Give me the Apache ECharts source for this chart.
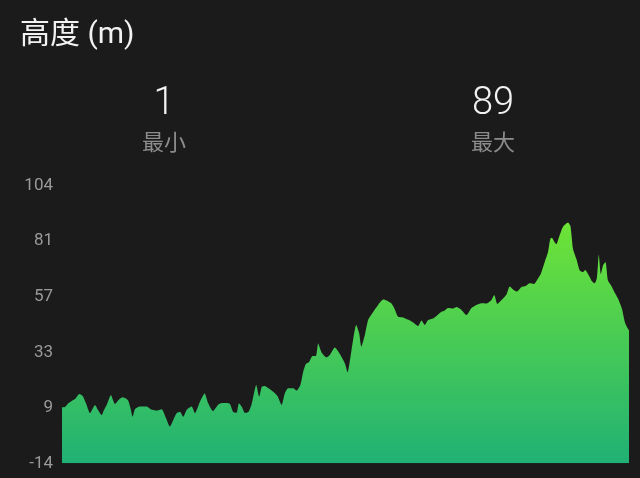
<!DOCTYPE html>
<html>
<head>
<meta charset="utf-8">
<script src="https://cdn.jsdelivr.net/npm/echarts@6/dist/echarts.min.js"></script>
<style>
html,body{margin:0;padding:0;background:#1b1b1b;}
#chart{width:640px;height:478px;}
</style>
</head>
<body>
<div id="chart"></div>
<script>
// distance along the route (arbitrary units) and altitude (m)
const distance = [0,3,6.3,9.7,13,17.3,20.7,24,28,30.5,33,36,39.7,42,44.7,47,49,51,53,57.3,60.7,64,66.3,68.5,70.7,73,78,84.7,88.7,94.7,99.7,103.7,108,111.3,114.7,118,121.3,124.7,129.7,133,138,142.7,146.3,151,156,159.7,164.7,168,171.3,174.7,177,180,183,186.5,189.5,191.3,194.3,197.3,200,203,206.3,211.3,215.5,219.7,223,226.3,231.3,234.7,238.5,241.3,244,247.3,250.7,254,256.3,259.7,264.7,268,273,278,283,285.7,289.7,294.4,297.3,299.5,303,306.3,311.3,316.3,321.3,324.7,329.7,333,336.3,341.3,346,351.3,356.3,359.7,363,366.3,371.3,374.7,379.7,383,386.3,391.3,394.7,399.7,404.7,409.7,414.7,419.7,424.7,429.7,432.5,435.5,439.7,444.7,448,452,455.3,459.7,464,468,472,476.3,479,483,486.3,488.5,490,493,494.7,497,501.3,506.3,508.7,511.3,514.7,518,521.3,523.5,526.3,528,530,532.8,535.2,537.1,539.2,541.5,543.8,546.3,549.7,553.5,556.3,558.5,560.3,563.5,567.3];
const altitude = [9.8,9.9,11.5,12.5,13.3,15.5,14.6,11.5,7.3,9.1,10.8,8.7,6.5,8.7,10.8,13.3,15.0,12.9,11.2,13.2,14.1,13.5,12.6,9.5,5.8,9.0,10.1,10.1,9.0,8.4,9.0,5.6,1.6,4.4,7.3,7.9,5.8,8.7,10.1,7.3,12.2,15.7,11.5,8.2,10.8,11.6,11.6,11.2,7.8,7.5,11.5,9.9,7.4,7.8,10.8,14.2,19.3,14.3,18.6,18.9,18.0,16.4,14.6,10.8,15.8,17.9,17.9,16.9,19.3,24.8,28.2,29.1,31.6,31.6,36.9,33.1,31.0,32.0,35.2,32.5,28.5,24.7,34.2,44.8,41.3,35.6,40.5,46.9,50.3,53.3,55.6,55.2,53.9,51.4,48.3,48.0,47.1,45.9,44.4,46.7,44.8,46.9,47.6,48.6,50.4,51.0,52.0,51.8,52.4,51.2,49.0,52.0,53.3,54.0,53.9,55.4,57.5,53.7,55.4,57.8,61.2,59.7,59.0,60.9,61.4,62.5,62.2,64.6,66.5,71.6,75.8,81.3,81.9,79.9,79.2,81.8,86.6,88.4,86.9,77.1,72.8,68.0,67.3,68.2,66.5,65.2,63.5,62.5,64.8,74.7,66.5,70.3,71.6,63.7,61.4,58.2,56.1,53.7,51.6,45.5,42.4];
const tickValues = [-14, 9.6, 33.2, 56.8, 80.4, 104];
const tickLabels = ['-14', '9', '33', '57', '81', '104'];
const titleText = '高度 (m)';
const statValues = ['1', '89'];
const statLabels = ['最小', '最大'];

const FONT = "Roboto, 'Noto Sans CJK SC', sans-serif";
const chart = echarts.init(document.getElementById('chart'));
const points = distance.map((d, i) => [d, altitude[i]]);
const statX = [164, 493];

const graphics = [{
  type: 'text', left: 20, top: 21,
  style: { text: titleText, fill: '#f2f2f2', font: '30px ' + FONT }
}];
statValues.forEach((v, i) => {
  graphics.push({
    type: 'text', x: statX[i], y: 104,
    style: { text: v, fill: '#f2f2f2', font: '300 38px ' + FONT, align: 'center', verticalAlign: 'middle' }
  });
  graphics.push({
    type: 'text', x: statX[i], y: 144,
    style: { text: statLabels[i], fill: '#8c8c8c', font: '22px ' + FONT, align: 'center', verticalAlign: 'middle' }
  });
});

chart.setOption({
  backgroundColor: '#1b1b1b',
  animation: false,
  graphic: graphics,
  grid: { left: 62, right: 11, top: 185.7, bottom: 14.7, containLabel: false },
  xAxis: {
    type: 'value', min: 0, max: distance[distance.length - 1],
    show: false
  },
  yAxis: {
    type: 'value', min: -14, max: 104,
    splitLine: { show: false },
    axisLine: { show: false },
    axisTick: { show: false },
    axisLabel: {
      customValues: tickValues,
      formatter: (val) => {
        const i = tickValues.findIndex(t => Math.abs(t - val) < 0.01);
        return i >= 0 ? tickLabels[i] : '';
      },
      color: '#9a9a9a', fontSize: 17, fontFamily: FONT, margin: 9
    }
  },
  series: [{
    type: 'line',
    data: points,
    smooth: 0.2,
    showSymbol: false,
    lineStyle: { width: 0 },
    areaStyle: {
      origin: 'start',
      opacity: 1,
      color: new echarts.graphic.LinearGradient(0, 0, 0, 1, [
        { offset: 0, color: '#6ee436' },
        { offset: 1, color: '#20b175' }
      ])
    }
  }]
});
</script>
</body>
</html>
